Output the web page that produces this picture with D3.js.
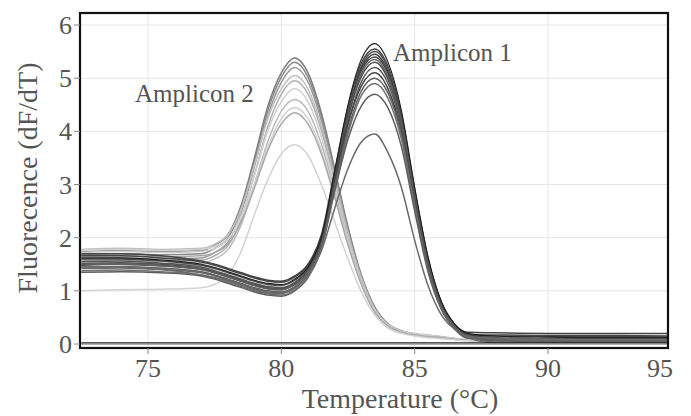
<!DOCTYPE html>
<html>
<head>
<meta charset="utf-8">
<script src="https://cdn.jsdelivr.net/npm/d3@7/dist/d3.min.js"></script>
<style>
  body { margin: 0; background: #fff; }
  svg { display: block; }
  text { font-family: "Liberation Serif", "DejaVu Serif", serif; fill: #555; }
</style>
</head>
<body>
<svg id="chart" width="691" height="416"></svg>
<script>
const temps = [72.5, 74, 75.5, 77, 77.5, 78, 78.5, 79, 79.5, 80, 80.5, 81, 81.5, 82, 82.5, 83, 83.5, 84, 84.5, 85, 85.5, 86, 86.5, 87, 88, 90, 92, 94.5];

// Amplicon 1 melt curves (dF/dT)
const amplicon1 = [
  [1.62,1.62,1.58,1.5,1.44,1.36,1.28,1.2,1.14,1.12,1.22,1.45,2.0,3.25,4.5,5.35,5.65,5.3,4.4,2.95,1.65,0.8,0.38,0.2,0.15,0.13,0.12,0.12],
  [1.7,1.7,1.66,1.56,1.5,1.42,1.34,1.26,1.2,1.18,1.28,1.5,2.05,3.25,4.45,5.28,5.55,5.22,4.32,2.9,1.6,0.78,0.36,0.22,0.21,0.2,0.2,0.2],
  [1.55,1.56,1.52,1.45,1.38,1.3,1.22,1.14,1.08,1.06,1.16,1.4,1.95,3.15,4.38,5.22,5.5,5.18,4.3,2.88,1.6,0.78,0.36,0.18,0.12,0.1,0.1,0.1],
  [1.48,1.5,1.47,1.4,1.34,1.26,1.18,1.1,1.04,1.02,1.12,1.36,1.9,3.1,4.32,5.18,5.45,5.12,4.25,2.85,1.58,0.77,0.35,0.17,0.08,0.06,0.06,0.06],
  [1.6,1.6,1.56,1.48,1.42,1.34,1.26,1.18,1.12,1.1,1.2,1.43,1.97,3.15,4.35,5.14,5.4,5.08,4.22,2.82,1.55,0.75,0.34,0.16,0.15,0.14,0.14,0.13],
  [1.42,1.43,1.4,1.34,1.28,1.2,1.12,1.04,0.98,0.96,1.06,1.3,1.85,3.05,4.25,5.08,5.35,5.02,4.18,2.8,1.54,0.74,0.33,0.15,0.04,0.03,0.03,0.03],
  [1.52,1.53,1.5,1.42,1.36,1.28,1.2,1.12,1.06,1.04,1.14,1.38,1.92,3.08,4.25,5.03,5.3,4.98,4.14,2.76,1.5,0.72,0.32,0.14,0.1,0.09,0.09,0.09],
  [1.35,1.36,1.34,1.28,1.22,1.14,1.06,0.98,0.92,0.9,1.0,1.25,1.8,2.98,4.12,4.93,5.2,4.9,4.08,2.72,1.48,0.7,0.31,0.13,0.06,0.05,0.05,0.05],
  [1.66,1.66,1.62,1.54,1.48,1.4,1.32,1.24,1.18,1.16,1.26,1.48,2.0,3.1,4.15,4.85,5.1,4.8,4.0,2.68,1.45,0.7,0.3,0.17,0.17,0.16,0.16,0.15],
  [1.45,1.46,1.43,1.36,1.3,1.22,1.14,1.06,1.0,0.98,1.08,1.32,1.84,2.95,4.02,4.76,5.0,4.72,3.94,2.62,1.42,0.68,0.3,0.12,0.07,0.06,0.06,0.06],
  [1.38,1.39,1.36,1.3,1.24,1.16,1.08,1.0,0.94,0.92,1.02,1.26,1.78,2.88,3.95,4.67,4.9,4.62,3.86,2.58,1.4,0.67,0.29,0.12,0.02,0.02,0.02,0.02],
  [1.5,1.5,1.47,1.4,1.34,1.26,1.18,1.1,1.04,1.02,1.12,1.35,1.85,2.88,3.85,4.48,4.7,4.44,3.72,2.5,1.36,0.65,0.28,0.11,0.11,0.1,0.1,0.1],
  [1.45,1.45,1.4,1.3,1.25,1.18,1.1,1.02,0.96,0.95,1.05,1.3,1.75,2.55,3.3,3.8,3.95,3.6,2.95,1.95,1.1,0.55,0.28,0.15,0.1,0.08,0.08,0.08]
];

// Amplicon 2 melt curves (dF/dT)
const amplicon2 = [
  [1.74,1.76,1.74,1.76,1.86,2.06,2.62,3.52,4.48,5.1,5.38,5.1,4.35,3.3,2.2,1.3,0.7,0.38,0.25,0.19,0.16,0.13,0.1,0.07,0.05,0.04,0.04,0.04],
  [1.68,1.7,1.68,1.7,1.8,2.0,2.55,3.45,4.4,5.02,5.3,5.02,4.28,3.25,2.16,1.28,0.68,0.37,0.24,0.18,0.15,0.12,0.1,0.07,0.06,0.05,0.05,0.05],
  [1.6,1.62,1.6,1.62,1.72,1.92,2.46,3.35,4.3,4.92,5.2,4.93,4.2,3.18,2.12,1.25,0.66,0.36,0.23,0.18,0.15,0.12,0.09,0.07,0.05,0.05,0.05,0.05],
  [1.78,1.8,1.78,1.8,1.88,2.06,2.55,3.38,4.25,4.8,5.05,4.8,4.1,3.12,2.08,1.24,0.66,0.36,0.24,0.2,0.17,0.14,0.11,0.08,0.06,0.05,0.05,0.05],
  [1.56,1.58,1.56,1.58,1.66,1.85,2.35,3.2,4.1,4.7,4.95,4.7,4.02,3.06,2.04,1.2,0.64,0.35,0.23,0.18,0.15,0.12,0.1,0.07,0.05,0.05,0.05,0.05],
  [1.72,1.74,1.72,1.74,1.8,1.96,2.42,3.18,4.02,4.56,4.8,4.56,3.9,2.98,2.0,1.19,0.64,0.36,0.24,0.19,0.16,0.13,0.1,0.08,0.06,0.06,0.06,0.06],
  [1.5,1.52,1.5,1.52,1.6,1.78,2.25,3.02,3.82,4.38,4.6,4.38,3.76,2.88,1.94,1.15,0.62,0.34,0.22,0.17,0.14,0.12,0.09,0.07,0.05,0.05,0.05,0.05],
  [1.76,1.78,1.76,1.78,1.84,1.98,2.38,3.02,3.72,4.24,4.45,4.24,3.65,2.8,1.9,1.14,0.62,0.35,0.23,0.18,0.15,0.12,0.1,0.08,0.06,0.06,0.06,0.06],
  [1.64,1.66,1.64,1.66,1.72,1.88,2.3,2.95,3.65,4.14,4.35,4.14,3.58,2.76,1.86,1.12,0.6,0.34,0.22,0.17,0.14,0.12,0.09,0.07,0.05,0.05,0.05,0.05],
  [1.0,1.02,1.03,1.06,1.12,1.3,1.75,2.45,3.1,3.58,3.75,3.55,3.0,2.3,1.6,0.98,0.55,0.3,0.2,0.15,0.12,0.1,0.08,0.06,0.05,0.04,0.04,0.04]
];

// no-template controls, flat on the baseline
const controlTemps = [72.5, 94.5];
const controls = [[0.02, 0.02], [0.0, 0.0]];

const xTicks = [75, 80, 85, 90, 95];
const yTicks = [0, 1, 2, 3, 4, 5, 6];

const amp1Shades = ['#1e1e1e', '#444', '#555', '#3c3c3c', '#4a4a4a', '#666', '#505050', '#5a5a5a', '#454545', '#606060', '#707070', '#5e5e5e', '#6a6a6a'];
const amp2Shades = ['#7c7c7c', '#8a8a8a', '#999', '#c0c0c0', '#b0b0b0', '#cfcfcf', '#bbbbbb', '#d0d0d0', '#a8a8a8', '#d2d2d2'];

const svg = d3.select('#chart');
const plotLeft = 80, plotRight = 668, plotTop = 13, plotBottom = 348;

const x = d3.scaleLinear().domain([72.45, 94.5]).range([plotLeft, plotRight]);
const y = d3.scaleLinear().domain([-0.075, 6.226]).range([plotBottom, plotTop]);

svg.append('defs').append('clipPath').attr('id', 'plot-clip')
  .append('rect')
  .attr('x', plotLeft).attr('y', plotTop)
  .attr('width', plotRight - plotLeft).attr('height', plotBottom - plotTop);

// grid
svg.append('g').selectAll('line.hgrid')
  .data(yTicks)
  .enter()
  .append('line')
  .attr('class', 'hgrid')
  .attr('x1', plotLeft).attr('x2', plotRight)
  .attr('y1', d => y(d)).attr('y2', d => y(d))
  .attr('stroke', '#e6e6e6')
  .attr('stroke-width', 1);

svg.append('g').selectAll('line.vgrid')
  .data(xTicks.filter(d => x(d) < plotRight))
  .enter()
  .append('line')
  .attr('class', 'vgrid')
  .attr('x1', d => x(d)).attr('x2', d => x(d))
  .attr('y1', plotTop).attr('y2', plotBottom)
  .attr('stroke', '#e6e6e6')
  .attr('stroke-width', 1);

function drawCurves(g, series, xs, shades, width) {
  const line = d3.line()
    .x((d, i) => x(xs[i]))
    .y(d => y(d))
    .curve(d3.curveMonotoneX);

  g.selectAll(null)
    .data(series)
    .enter()
    .append('path')
    .attr('d', d => line(d))
    .attr('fill', 'none')
    .attr('stroke', (d, i) => shades[i % shades.length])
    .attr('stroke-width', width)
    .attr('stroke-linejoin', 'round');
}

const plot = svg.append('g').attr('clip-path', 'url(#plot-clip)');
drawCurves(plot.append('g'), amplicon2, temps, amp2Shades, 1.5);
drawCurves(plot.append('g'), amplicon1.slice(1), temps, amp1Shades.slice(1), 1.5);
drawCurves(plot.append('g'), amplicon1.slice(0, 1), temps, amp1Shades, 1.1);
drawCurves(plot.append('g'), controls, controlTemps, ['#222', '#9a9a9a'], 1.6);

// frame
svg.append('rect')
  .attr('x', plotLeft).attr('y', plotTop)
  .attr('width', plotRight - plotLeft).attr('height', plotBottom - plotTop)
  .attr('fill', 'none')
  .attr('stroke', '#111')
  .attr('stroke-width', 2.2);

// ticks
svg.append('g').selectAll('line.ytick')
  .data(yTicks)
  .enter()
  .append('line')
  .attr('x1', plotLeft - 6).attr('x2', plotLeft)
  .attr('y1', d => y(d)).attr('y2', d => y(d))
  .attr('stroke', '#888');

svg.append('g').selectAll('text.ylab')
  .data(yTicks)
  .enter()
  .append('text')
  .attr('x', 72)
  .attr('y', d => y(d) + 9)
  .attr('text-anchor', 'end')
  .attr('font-size', 26)
  .text(d => d);

svg.append('g').selectAll('line.xtick')
  .data(xTicks.filter(d => x(d) < plotRight))
  .enter()
  .append('line')
  .attr('x1', d => x(d)).attr('x2', d => x(d))
  .attr('y1', plotBottom).attr('y2', plotBottom + 6)
  .attr('stroke', '#888');

svg.append('g').selectAll('text.xlab')
  .data(xTicks)
  .enter()
  .append('text')
  .attr('x', d => Math.min(x(d), 660))
  .attr('y', 377)
  .attr('text-anchor', 'middle')
  .attr('font-size', 26)
  .text(d => d);

// titles
svg.append('text')
  .attr('x', 400).attr('y', 408)
  .attr('text-anchor', 'middle')
  .attr('font-size', 28)
  .text('Temperature (°C)');

svg.append('text')
  .attr('transform', 'translate(37,178) rotate(-90)')
  .attr('text-anchor', 'middle')
  .attr('font-size', 28)
  .text('Fluorecence (dF/dT)');

// annotations
svg.append('text')
  .attr('x', 135).attr('y', 102)
  .attr('font-size', 25)
  .attr('fill', '#444')
  .text('Amplicon 2');

svg.append('text')
  .attr('x', 393).attr('y', 61)
  .attr('font-size', 25)
  .attr('fill', '#444')
  .text('Amplicon 1');
</script>
</body>
</html>
